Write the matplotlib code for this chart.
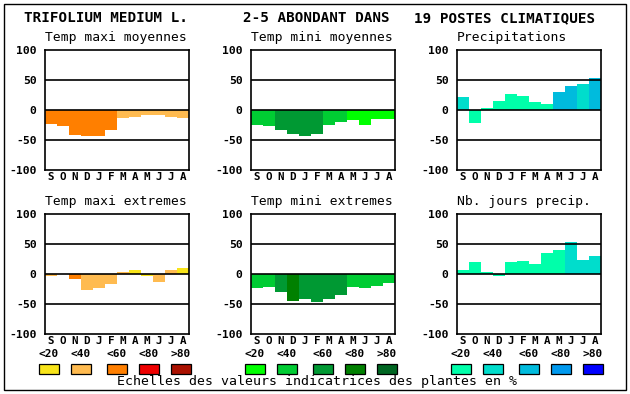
import numpy as np
import matplotlib
matplotlib.use("Agg")
import matplotlib.pyplot as plt
from matplotlib.patches import Rectangle

W, H = 630, 394

months = ['S', 'O', 'N', 'D', 'J', 'F', 'M', 'A', 'M', 'J', 'J', 'A']
scale_labels = ['<20', '<40', '<60', '<80', '>80']

titles = ['Temp maxi moyennes', 'Temp mini moyennes', 'Precipitations',
          'Temp maxi extremes', 'Temp mini extremes', 'Nb. jours precip.']

# bar values
tmax_moy = [-24, -26, -41, -44, -44, -34, -14, -12, -8, -8, -12, -14]
tmin_moy = [-25, -27, -34, -40, -44, -40, -25, -20, -17, -25, -15, -15]
precip = [22, -22, 4, 15, 27, 24, 14, 10, 30, 40, 44, 54]
tmax_ext = [-4, 0, -8, -27, -23, -17, 3, 7, -4, -14, 7, 10]
tmin_ext = [-24, -22, -30, -45, -42, -47, -42, -35, -22, -24, -20, -15]
nb_jours = [7, 20, 4, -4, 20, 22, 17, 35, 40, 54, 24, 30]

# colour class (0..4 -> <20 .. >80) of each bar
tmax_moy_cls = [2, 2, 2, 2, 2, 2, 1, 1, 1, 1, 1, 1]
tmin_moy_cls = [1, 1, 2, 2, 2, 2, 1, 1, 0, 0, 0, 0]
precip_cls = [1, 0, 0, 0, 0, 0, 0, 0, 2, 2, 1, 2]
tmax_ext_cls = [1, 1, 2, 1, 1, 1, 1, 0, 0, 1, 1, 0]
tmin_ext_cls = [1, 1, 2, 3, 2, 2, 2, 2, 1, 1, 1, 1]
nb_jours_cls = [0, 0, 0, 0, 0, 0, 0, 0, 0, 1, 1, 1]

warm = ['#f8e41a', '#ffbb50', '#ff7f00', '#ee0000', '#aa1100']
green = ['#00ff00', '#00cc33', '#009933', '#008000', '#006622']
blue = ['#00ffaa', '#00ddcc', '#00bbdd', '#0099ee', '#0000ff']

series = [tmax_moy, tmin_moy, precip, tmax_ext, tmin_ext, nb_jours]
classes = [tmax_moy_cls, tmin_moy_cls, precip_cls, tmax_ext_cls, tmin_ext_cls, nb_jours_cls]
palettes = [warm, green, blue, warm, green, blue]

MONO = 'DejaVu Sans Mono'

fig = plt.figure(figsize=(W / 100, H / 100), dpi=100)

def fx(x):
  return x / W

def fy(y):
  return 1 - y / H

# outer frame
fig.patches.append(Rectangle((fx(4), fy(390)), fx(622), 386 / H, transform=fig.transFigure,
                             fill=False, edgecolor='black', lw=1.0))

fig.text(fx(24), fy(18), 'TRIFOLIUM MEDIUM L.', family=MONO, weight='bold', fontsize=10.3, va='center')
fig.text(fx(243), fy(18), '2-5 ABONDANT DANS', family=MONO, weight='bold', fontsize=10.3, va='center')
fig.text(fx(414), fy(18), '19 POSTES CLIMATIQUES', family=MONO, weight='bold', fontsize=10.3, va='center')

lefts = [45, 251, 457]
tops = [50, 214]

for i in range(6):
  left = lefts[i % 3]
  top = tops[i // 3]
  ax = fig.add_axes([fx(left), fy(top + 120), 144 / W, 120 / H])
  cols = [palettes[i][c] for c in classes[i]]
  ax.bar(np.arange(12), series[i], width=1.0, color=cols, linewidth=0, zorder=2)
  for yv in [50, 0, -50]:
    ax.axhline(yv, color='black', lw=1.2, zorder=3)
  ax.set_xlim(-0.5, 11.5)
  ax.set_ylim(-100, 100)
  ax.set_yticks([100, 50, 0, -50, -100])
  ax.set_yticklabels(['100', '50', '0', '-50', '-100'], family=MONO, weight='bold', fontsize=8.2)
  ax.set_xticks(np.arange(12))
  ax.set_xticklabels(months, family=MONO, weight='bold', fontsize=7.8)
  ax.tick_params(axis='x', length=0, pad=1.5)
  ax.tick_params(axis='y', length=0, pad=6)
  for sp in ax.spines.values():
    sp.set_linewidth(1.2)
  fig.text(fx(left), fy(top - 12), titles[i], family=MONO, fontsize=9.4, va='center')

  if i < 3:
    for k in range(5):
      cx = left + [4, 36, 72, 104, 136][k]
      fig.text(fx(cx), fy(354), scale_labels[k], family=MONO, weight='bold', fontsize=8.0,
               ha='center', va='center')
      fig.patches.append(Rectangle((fx(cx - 10), fy(373.5)), 20 / W, 9.5 / H,
                                   transform=fig.transFigure, facecolor=palettes[i][k],
                                   edgecolor='black', lw=0.9))

fig.text(fx(317), fy(382), 'Echelles des valeurs indicatrices des plantes en %', family=MONO,
         fontsize=9.5, ha='center', va='center')

fig.savefig('out.png', dpi=100)
